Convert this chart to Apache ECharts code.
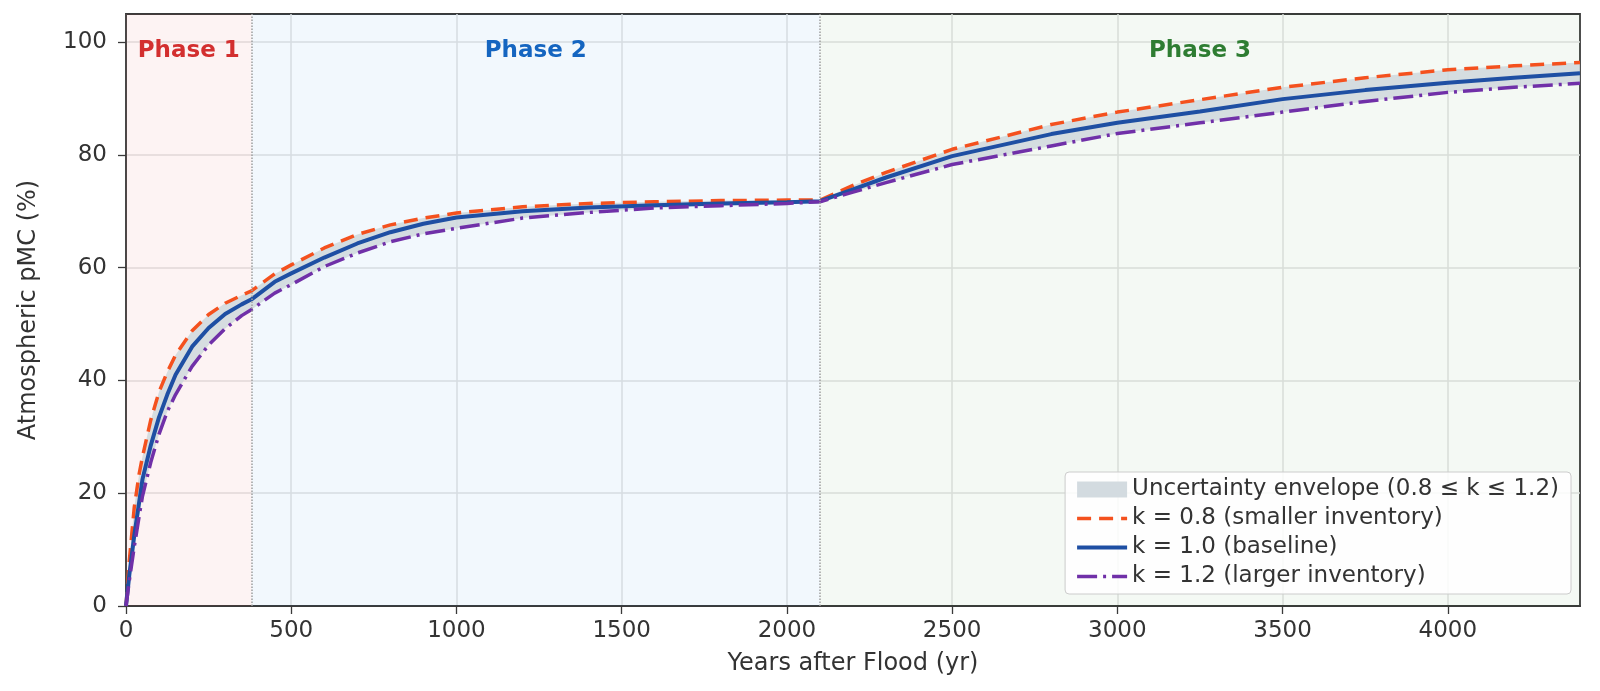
<!DOCTYPE html>
<html>
<head>
<meta charset="utf-8">
<script src="https://cdn.jsdelivr.net/npm/echarts@6/dist/echarts.min.js"></script>
<style>
  html, body { margin: 0; padding: 0; background: #fff; }
  #chart { width: 1600px; height: 691px; }
</style>
</head>
<body>
<div id="chart"></div>
<script>
// 数据
var years = [0, 10, 25, 40, 50, 75, 100, 125, 150, 200, 250, 300, 350, 380, 450, 500, 600, 700, 800, 900, 1000,
  1200, 1400, 1600, 1800, 2000, 2100, 2200, 2300, 2500, 2800, 3000, 3250, 3500, 3750, 4000, 4200, 4400];

var k08 = [0, 8, 17.5, 23.5, 26.5, 33, 38, 41.5, 44.5, 48.8, 51.7, 53.7, 55.1, 55.9, 58.9, 60.5, 63.5, 65.9, 67.6, 68.8, 69.7,
  70.8, 71.4, 71.7, 71.9, 72.0, 72.0, 74.6, 76.9, 81.0, 85.4, 87.6, 89.8, 92.0, 93.7, 95.1, 95.8, 96.4];

var k10 = [0, 5.5, 12.5, 18.5, 22.5, 28.5, 33.5, 37.5, 41, 46, 49.3, 51.8, 53.5, 54.4, 57.5, 59.0, 61.8, 64.3, 66.3, 67.8, 68.9,
  70.0, 70.7, 71.1, 71.4, 71.6, 71.8, 73.9, 76.0, 79.8, 83.7, 85.7, 87.7, 89.9, 91.5, 92.8, 93.7, 94.5];

var k12 = [0, 4.5, 10.5, 16, 19.5, 25.5, 30.5, 34.5, 37.5, 42.5, 46.3, 49.2, 51.5, 52.6, 55.5, 57.0, 60.2, 62.6, 64.6, 66.0, 67.0,
  68.8, 69.8, 70.6, 71.0, 71.4, 71.7, 73.4, 75.1, 78.3, 81.6, 83.8, 85.7, 87.6, 89.5, 91.1, 92.0, 92.7];

var phaseEdges = [0, 380, 2100, 4400];
var phaseNames = ['Phase 1', 'Phase 2', 'Phase 3'];
var xTicks = [0, 500, 1000, 1500, 2000, 2500, 3000, 3500, 4000];
var yTicks = [0, 20, 40, 60, 80, 100];

var seriesNames = [
  'Uncertainty envelope (0.8 ≤ k ≤ 1.2)',
  'k = 0.8 (smaller inventory)',
  'k = 1.0 (baseline)',
  'k = 1.2 (larger inventory)'
];

function pairs(ys) {
  return years.map(function (x, i) { return [x, ys[i]]; });
}

var phaseFill = ['rgba(230,80,80,0.065)', 'rgba(40,130,220,0.06)', 'rgba(60,150,60,0.055)'];
var phaseText = ['#d32f2f', '#1565c0', '#2e7d32'];

var chart = echarts.init(document.getElementById('chart'));
var font = 'DejaVu Sans';

var option = {
  animation: false,
  backgroundColor: '#fff',
  textStyle: { fontFamily: font },
  grid: {
    left: 126, right: 20, top: 14, bottom: 85,
    show: true, borderColor: '#3a3a3a', borderWidth: 1.8, backgroundColor: 'transparent'
  },
  legend: {
    orient: 'vertical',
    right: 29, bottom: 97,
    backgroundColor: 'rgba(255,255,255,0.85)',
    borderColor: '#cccccc', borderWidth: 1, borderRadius: 4,
    padding: [6, 12, 6, 10],
    itemWidth: 50, itemHeight: 16, itemGap: 6,
    itemStyle: { opacity: 0 },
    textStyle: { fontFamily: font, fontSize: 23, color: '#333' },
    data: [
      { name: seriesNames[0], icon: 'rect', itemStyle: { color: '#d3dbe0', opacity: 1 } },
      { name: seriesNames[1], lineStyle: { width: 3.5 } },
      { name: seriesNames[2], lineStyle: { width: 4 } },
      { name: seriesNames[3], lineStyle: { width: 3.5 } }
    ]
  },
  xAxis: {
    type: 'value', min: 0, max: 4400, interval: 500,
    name: 'Years after Flood (yr)', nameLocation: 'middle', nameGap: 46,
    nameTextStyle: { fontFamily: font, fontSize: 24, color: '#333' },
    axisLine: { show: true, lineStyle: { color: '#3a3a3a', width: 1.8 } },
    axisTick: { show: true, length: 8, lineStyle: { color: '#3a3a3a', width: 1.3 }, customValues: xTicks },
    axisLabel: {
      fontFamily: font, fontSize: 23, color: '#333', margin: 14, customValues: xTicks,
      formatter: function (v) { return String(v); }
    },
    splitLine: { show: true, lineStyle: { color: '#e2e2e2', width: 1.5 } }
  },
  yAxis: {
    type: 'value', min: 0, max: 105, interval: 20,
    name: 'Atmospheric pMC (%)', nameLocation: 'middle', nameGap: 85,
    nameTextStyle: { fontFamily: font, fontSize: 24, color: '#333' },
    axisLine: { show: true, lineStyle: { color: '#3a3a3a', width: 1.8 } },
    axisTick: { show: true, length: 8, lineStyle: { color: '#3a3a3a', width: 1.3 }, customValues: yTicks },
    axisLabel: { fontFamily: font, fontSize: 23, color: '#333', margin: 19, customValues: yTicks },
    splitLine: { show: true, lineStyle: { color: '#e2e2e2', width: 1.5 } }
  },
  series: [
    {
      // 背景分区 + 分界线
      name: 'phases', type: 'line', data: [], silent: true,
      markArea: {
        silent: true,
        data: phaseNames.map(function (n, i) {
          return [{
            xAxis: phaseEdges[i],
            itemStyle: { color: phaseFill[i] },
            label: {
              show: true, position: 'insideTop', distance: 26,
              formatter: n, fontFamily: font, fontWeight: 'bold', fontSize: 23, color: phaseText[i]
            }
          }, { xAxis: phaseEdges[i + 1] }];
        })
      },
      markLine: {
        silent: true, symbol: 'none', label: { show: false },
        lineStyle: { color: '#9e9e9e', width: 1.5, type: 'dotted' },
        data: [{ xAxis: phaseEdges[1] }, { xAxis: phaseEdges[2] }]
      }
    },
    {
      // 不确定性包络（k=0.8 与 k=1.2 之间）
      name: seriesNames[0], type: 'custom', silent: true,
      data: [[0, 0]], encode: { x: 0, y: 1 },
      itemStyle: { color: '#d3dbe0' },
      renderItem: function (params, api) {
        var pts = [];
        for (var i = 0; i < years.length; i++) pts.push(api.coord([years[i], k08[i]]));
        for (var j = years.length - 1; j >= 0; j--) pts.push(api.coord([years[j], k12[j]]));
        return {
          type: 'polygon',
          shape: { points: pts },
          style: { fill: '#cfd8dc', opacity: 0.85 }
        };
      }
    },
    {
      name: seriesNames[1], type: 'line', data: pairs(k08),
      showSymbol: false, symbol: 'none',
      itemStyle: { color: '#f4511e' },
      lineStyle: { color: '#f4511e', width: 3.5, type: [14, 8] }
    },
    {
      name: seriesNames[2], type: 'line', data: pairs(k10),
      showSymbol: false, symbol: 'none',
      itemStyle: { color: '#1e4fa3' },
      lineStyle: { color: '#1e4fa3', width: 4 }
    },
    {
      name: seriesNames[3], type: 'line', data: pairs(k12),
      showSymbol: false, symbol: 'none',
      itemStyle: { color: '#7030a8' },
      lineStyle: { color: '#7030a8', width: 3.5, type: [20, 6, 3, 6] }
    }
  ]
};

chart.setOption(option);
</script>
</body>
</html>
